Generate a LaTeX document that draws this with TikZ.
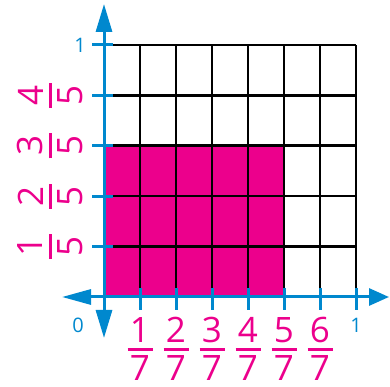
\documentclass[tikz,border=0pt]{standalone}
\usepackage{fontspec}
\setsansfont{Open Sans}
\usetikzlibrary{arrows.meta}
\definecolor{shademag}{RGB}{236,0,140}
\definecolor{axisblue}{RGB}{0,136,206}

\begin{document}
\begin{tikzpicture}[x=36pt,y=50.4pt,line width=3pt,
  fracnum/.style={text=shademag,font=\sffamily\fontsize{35}{35}\selectfont,inner sep=0pt},
  axislabel/.style={text=axisblue,font=\sffamily\fontsize{20}{20}\selectfont,inner sep=0pt},
  fracbar/.style={shademag,line width=3pt},
  tick/.style={axisblue,line width=3pt}]
  \useasboundingbox (-104pt,-90pt) rectangle (286pt,297pt);
  % shaded part: 5/7 wide, 3/5 high
  \fill[shademag] (0,0) rectangle (5,3);
  \foreach \i in {1,...,7}
    \draw[black,line width=2.6pt] (\i,0) -- (\i,5);
  \foreach \j in {1,...,5}
    \draw[black,line width=2.6pt] (0,\j) -- (7,\j);
  % axes with arrows at both ends
  \coordinate (xl) at (-42pt,0);
  \coordinate (xr) at (285pt,0);
  \coordinate (yb) at (0,-41pt);
  \coordinate (yt) at (0,293pt);
  \draw[axisblue,{Triangle[length=29pt,width=15pt]}-{Triangle[length=20pt,width=17pt]}] (xl) -- (xr);
  \draw[axisblue,{Triangle[length=28pt,width=16pt]}-{Triangle[length=28pt,width=16pt]}] (yb) -- (yt);
  \foreach \i in {1,...,7}
    \draw[tick] ([yshift=9pt]\i,0) -- ([yshift=-13pt]\i,0);
  \foreach \j in {1,...,5}
    \draw[tick] ([xshift=-12pt]0,\j) -- ([xshift=9pt]0,\j);
  \node[axislabel] (zero) at ([xshift=-26pt,yshift=-28pt]0,0) {0};
  \node[axislabel] (xone) at ([yshift=-28pt]7,0) {1};
  \node[axislabel] (yone) at ([xshift=-24pt]0,5) {1};
  % sevenths under the x-axis
  \foreach \i in {1,...,6}{
    \node[fracnum] (xn\i) at ([yshift=-33pt]\i,0) {\i};
    \node[fracnum] (xd\i) at ([yshift=-71.5pt]\i,0) {7};
    \draw[fracbar] ([yshift=-53pt]\i,0) ++(-12.5pt,0) -- ++(25pt,0);
  }
  % fifths beside the y-axis, turned
  \foreach \j in {1,...,4}{
    \node[fracnum,rotate=90] (yn\j) at ([xshift=-73.5pt]0,\j) {\j};
    \node[fracnum,rotate=90] (yd\j) at ([xshift=-34pt]0,\j) {5};
    \draw[fracbar] ([xshift=-53pt]0,\j) ++(0,-12.5pt) -- ++(0,25pt);
  }
\end{tikzpicture}
\end{document}
